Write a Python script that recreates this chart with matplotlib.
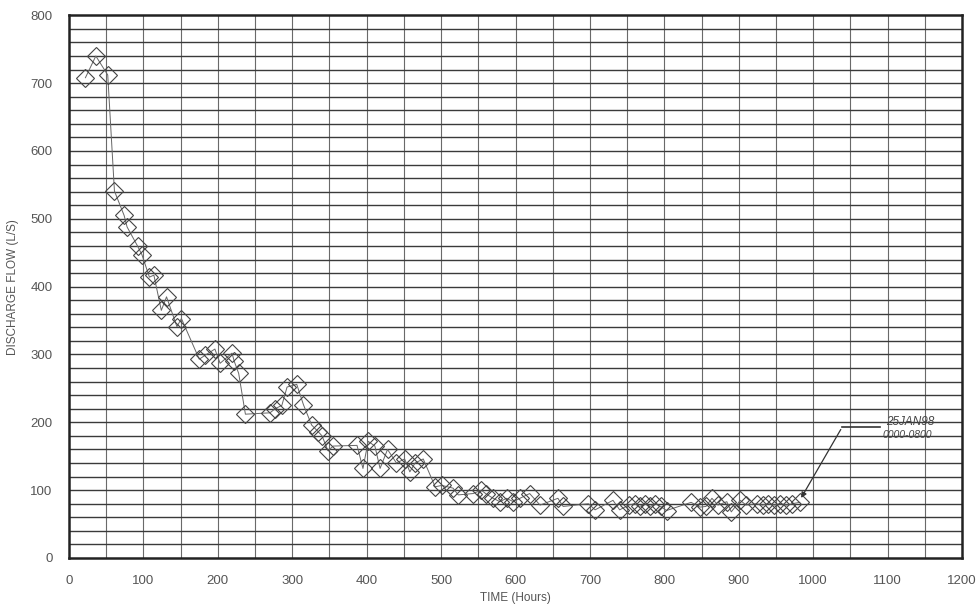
import numpy as np
import matplotlib.pyplot as plt

# time (hours) and discharge flow (L/S)
hours = [22, 36, 52, 61, 74, 78, 92, 98, 108, 114, 124, 131, 145, 151,
         175, 183, 196, 203, 219, 222, 228, 237, 270, 277, 286, 293, 306,
         315, 326, 335, 340, 348, 355, 387, 395, 402, 411, 418, 428, 440,
         451, 458, 465, 476, 492, 501, 516, 523, 543, 554, 561, 570, 579,
         588, 597, 606, 619, 633, 657, 664, 698, 707, 731, 740, 752, 760,
         767, 774, 781, 788, 795, 803, 836, 848, 856, 864, 872, 884, 890,
         902, 910, 924, 932, 940, 948, 956, 964, 972, 982]
flow = [708, 740, 712, 541, 505, 488, 460, 447, 414, 417, 365, 385, 341, 353,
        293, 299, 308, 287, 302, 290, 272, 212, 214, 220, 225, 252, 256,
        226, 196, 186, 180, 158, 165, 166, 132, 172, 165, 132, 160, 140,
        146, 127, 140, 146, 105, 107, 103, 93, 95, 100, 94, 88, 83,
        88, 83, 88, 95, 78, 88, 76, 80, 71, 85, 71, 78, 80,
        76, 80, 76, 80, 76, 70, 82, 75, 76, 88, 78, 83, 68,
        85, 78, 80, 78, 80, 78, 80, 78, 80, 82]

note_lines = ["25JAN98", "0000-0800"]

plt.rcParams['font.family'] = ['Liberation Sans Narrow', 'Liberation Sans', 'DejaVu Sans']

fig = plt.figure(figsize=(9.78, 6.05), dpi=100)
ax = fig.add_axes([0.0706, 0.0777, 0.913, 0.897])

# graph paper grid
for xv in np.arange(50, 1200, 50):
    ax.axvline(xv, color='#6a6a6a', lw=0.8, zorder=1)
for yv in np.arange(20, 800, 20):
    ax.axhline(yv, color='#3a3a3a', lw=1.0, zorder=1)

ax.plot(hours, flow, color='#666666', lw=0.7, zorder=2)
ax.plot(hours, flow, 'D', ms=9, mfc='none', mec='#444444', mew=0.8, zorder=3)

# handwritten note with pointer to the last reading
ax.annotate('', xy=(hours[-1], flow[-1] + 3), xytext=(1039, 193),
            arrowprops=dict(arrowstyle='-|>', color='#333333', lw=0.9,
                            mutation_scale=8), zorder=4)
ax.plot([1039, 1090], [193, 193], color='#333333', lw=1.2, zorder=4)
ax.text(1098, 200, note_lines[0], fontsize=8.5, color='#444444', style='italic',
        va='center', ha='left', zorder=5)
ax.text(1093, 181, note_lines[1], fontsize=7.5, color='#444444', style='italic',
        va='center', ha='left', zorder=5)

ax.set_xlim(0, 1200)
ax.set_ylim(0, 800)
ax.set_xticks(np.arange(0, 1201, 100))
ax.set_yticks(np.arange(0, 801, 100))
ax.tick_params(length=0, labelsize=9.5, labelcolor='#555555', pad=12)
for s in ax.spines.values():
    s.set_linewidth(1.8)
    s.set_color('#222222')

ax.set_xlabel('TIME (Hours)', fontsize=8.5, color='#555555', labelpad=4)
ax.set_ylabel('DISCHARGE FLOW (L/S)', fontsize=8.5, color='#555555', labelpad=8)

fig.savefig('out.png', dpi=100)
